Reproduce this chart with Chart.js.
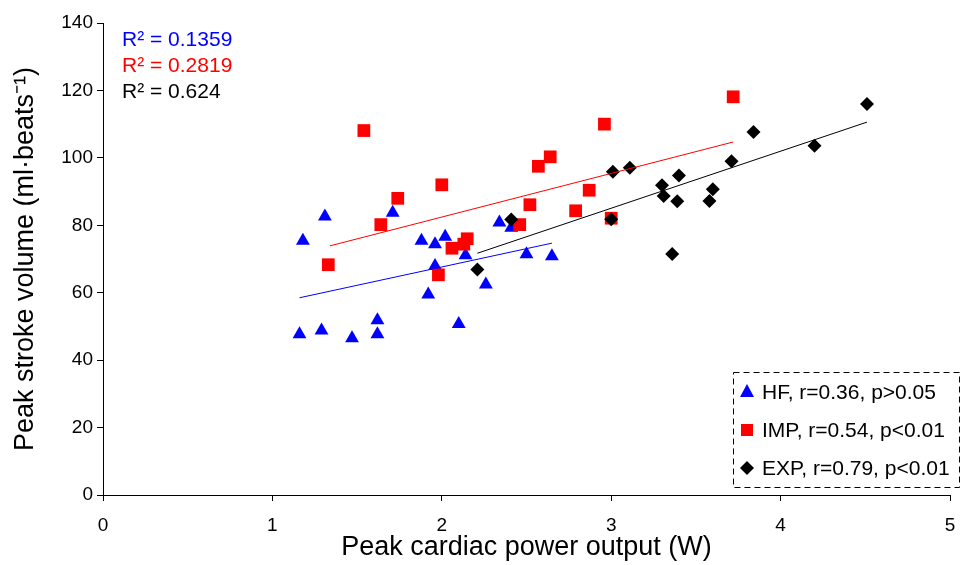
<!DOCTYPE html>
<html>
<head>
<meta charset="utf-8">
<script src="https://cdn.jsdelivr.net/npm/chart.js@4"></script>
<style>
  html, body { margin: 0; padding: 0; background: #fff; }
</style>
</head>
<body>
<canvas id="chart" width="961" height="565"></canvas>
<script>
// HF group (blue triangles)
const hfX = [1.16, 1.18, 1.29, 1.31, 1.47, 1.62, 1.62, 1.71, 1.88, 1.92, 1.96, 1.96, 2.02, 2.10, 2.14, 2.26, 2.34, 2.41, 2.50, 2.65];
const hfY = [47.7, 75.4, 48.8, 82.6, 46.5, 51.8, 47.7, 83.7, 75.4, 59.5, 74.4, 67.9, 76.6, 50.7, 71.1, 62.4, 80.8, 79.3, 71.4, 70.8];

// IMP group (red squares)
const impX = [1.33, 1.54, 1.64, 1.74, 1.98, 2.00, 2.06, 2.13, 2.15, 2.46, 2.52, 2.57, 2.64, 2.79, 2.87, 2.96, 3.00, 3.72];
const impY = [68.3, 108.1, 80.2, 88.0, 65.3, 92.0, 73.2, 74.4, 76.0, 80.2, 86.1, 97.5, 100.3, 84.3, 90.4, 110.0, 82.1, 118.1];

// EXP group (black diamonds)
const expX = [2.21, 2.41, 3.00, 3.01, 3.11, 3.30, 3.31, 3.36, 3.39, 3.40, 3.58, 3.60, 3.71, 3.84, 4.20, 4.51];
const expY = [66.9, 81.7, 81.8, 95.9, 97.1, 91.9, 88.7, 71.5, 87.1, 94.8, 87.2, 90.7, 99.0, 107.7, 103.6, 116.0];

// trend line end points
const hfFitX = [1.16, 2.65];
const hfFitY = [58.5, 74.7];
const impFitX = [1.34, 3.72];
const impFitY = [73.9, 104.7];
const expFitX = [2.21, 4.51];
const expFitY = [71.7, 110.6];

const groupLabels = ["HF, r=0.36, p>0.05", "IMP, r=0.54, p<0.01", "EXP, r=0.79, p<0.01"];
const r2Labels = ["R\u00B2 = 0.1359", "R\u00B2 = 0.2819", "R\u00B2 = 0.624"];
const colors = ["#0000FF", "#FF0000", "#000000"];

const xTicks = [0, 1, 2, 3, 4, 5];
const yTicks = [0, 20, 40, 60, 80, 100, 120, 140];

const FONT = "'Liberation Sans', Arial, sans-serif";

function toPoints(xs, ys) {
  return xs.map((x, i) => ({ x: x, y: ys[i] }));
}

function markerPath(ctx, shape, x, y) {
  ctx.beginPath();
  if (shape === "triangle") {
    ctx.moveTo(x, y - 8);
    ctx.lineTo(x + 7, y + 5);
    ctx.lineTo(x - 7, y + 5);
  } else if (shape === "rect") {
    ctx.rect(x - 6, y - 6, 12, 12);
  } else {
    ctx.moveTo(x, y - 7);
    ctx.lineTo(x + 7, y);
    ctx.lineTo(x, y + 7);
    ctx.lineTo(x - 7, y);
  }
  ctx.closePath();
  ctx.fill();
}

// legend box and R² notes
const notesPlugin = {
  id: "notes",
  afterDraw(chart) {
    const ctx = chart.ctx;
    const area = chart.chartArea;
    ctx.save();

    ctx.font = "21px " + FONT;
    ctx.textBaseline = "alphabetic";
    ctx.textAlign = "left";
    r2Labels.forEach((t, i) => {
      ctx.fillStyle = colors[i];
      ctx.fillText(t, area.left + 19, area.top + 23 + i * 26);
    });

    const boxL = area.right - 217, boxT = area.bottom - 123;
    ctx.strokeStyle = "#000";
    ctx.lineWidth = 1;
    ctx.setLineDash([6, 4]);
    ctx.strokeRect(boxL + 0.5, boxT + 0.5, 226, 115);
    ctx.setLineDash([]);

    const shapes = ["triangle", "rect", "rectRot"];
    ctx.font = "21px " + FONT;
    ctx.textBaseline = "middle";
    groupLabels.forEach((t, i) => {
      const cy = boxT + 20 + i * 38;
      ctx.fillStyle = colors[i];
      markerPath(ctx, shapes[i], boxL + 14, cy);
      ctx.fillStyle = "#000";
      ctx.fillText(t, boxL + 29, cy + 1);
    });
    ctx.restore();
  }
};

const lineStyle = { showLine: true, pointRadius: 0, borderWidth: 1, fill: false, order: 0 };

new Chart(document.getElementById("chart"), {
  type: "scatter",
  data: {
    datasets: [
      Object.assign({ label: "HF fit", data: toPoints(hfFitX, hfFitY), borderColor: colors[0] }, lineStyle),
      Object.assign({ label: "IMP fit", data: toPoints(impFitX, impFitY), borderColor: colors[1] }, lineStyle),
      Object.assign({ label: "EXP fit", data: toPoints(expFitX, expFitY), borderColor: colors[2] }, lineStyle),
      {
        label: groupLabels[2], data: toPoints(expX, expY), order: 1,
        pointStyle: "rectRot", pointRadius: 7, backgroundColor: colors[2], borderColor: colors[2], borderWidth: 0
      },
      {
        label: groupLabels[1], data: toPoints(impX, impY), order: 2,
        pointStyle: "rect", pointRadius: 9, backgroundColor: colors[1], borderColor: colors[1], borderWidth: 0
      },
      {
        label: groupLabels[0], data: toPoints(hfX, hfY), order: 3,
        pointStyle: "triangle", pointRadius: 8, backgroundColor: colors[0], borderColor: colors[0], borderWidth: 0
      }
    ]
  },
  options: {
    responsive: false,
    animation: false,
    layout: { padding: { top: 23, right: 11, left: 0, bottom: 0 } },
    plugins: { legend: { display: false }, tooltip: { enabled: false } },
    scales: {
      x: {
        type: "linear",
        min: 0, max: 5,
        afterBuildTicks: (s) => { s.ticks = xTicks.map(v => ({ value: v })); },
        afterFit: (s) => { s.height = 70; s.paddingLeft = 0; s.paddingRight = 0; },
        grid: { drawOnChartArea: false, drawTicks: true, tickLength: 6, color: "#000" },
        border: { color: "#000", width: 1 },
        ticks: { color: "#000", font: { family: FONT, size: 19 }, padding: 13, maxRotation: 0 },
        title: { display: true, text: "Peak cardiac power output (W)", color: "#000", font: { family: FONT, size: 27 }, padding: { top: 0, bottom: 1 } }
      },
      y: {
        type: "linear",
        min: 0, max: 140,
        afterBuildTicks: (s) => { s.ticks = yTicks.map(v => ({ value: v })); },
        afterFit: (s) => { s.width = 103; s.paddingTop = 0; s.paddingBottom = 0; },
        grid: { drawOnChartArea: false, drawTicks: true, tickLength: 6, color: "#000" },
        border: { color: "#000", width: 1 },
        ticks: { color: "#000", font: { family: FONT, size: 19 }, padding: 4 },
        title: { display: true, text: "Peak stroke volume (ml\u00B7beats\u207B\u00B9)", color: "#000", font: { family: FONT, size: 27 }, padding: { top: 9, bottom: 0 } }
      }
    }
  },
  plugins: [notesPlugin]
});
</script>
</body>
</html>
